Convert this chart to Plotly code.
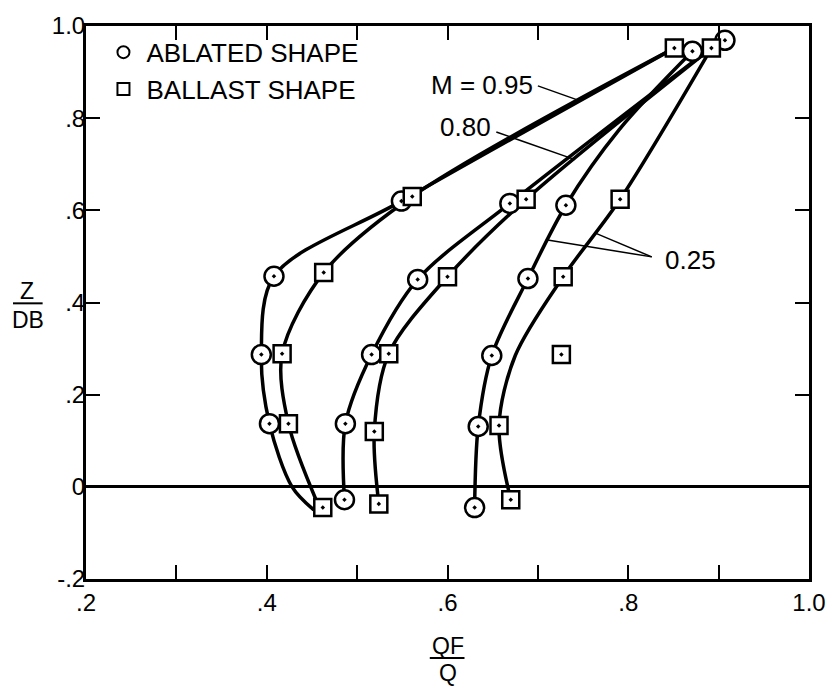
import plotly.graph_objects as go

# ---- data ----
# fair curves (x = QF/Q, y = Z/DB)
abl_095_x = [0.452, 0.428, 0.403, 0.394, 0.408, 0.549, 0.851]
abl_095_z = [-0.050, 0.000, 0.137, 0.287, 0.457, 0.620, 0.952]
bal_095_x = [0.456, 0.424, 0.417, 0.463, 0.561, 0.851]
bal_095_z = [-0.035, 0.137, 0.289, 0.465, 0.630, 0.952]
abl_080_x = [0.486, 0.487, 0.516, 0.567, 0.669, 0.890]
abl_080_z = [-0.028, 0.137, 0.287, 0.450, 0.615, 0.950]
bal_080_x = [0.524, 0.519, 0.535, 0.600, 0.687, 0.892]
bal_080_z = [-0.037, 0.120, 0.289, 0.456, 0.624, 0.952]
abl_025_x = [0.630, 0.634, 0.649, 0.689, 0.731, 0.790, 0.871]
abl_025_z = [-0.045, 0.131, 0.285, 0.452, 0.611, 0.775, 0.945]
bal_025_x = [0.670, 0.657, 0.675, 0.728, 0.791, 0.892]
bal_025_z = [-0.028, 0.133, 0.285, 0.456, 0.624, 0.952]

# measured points
abl_pts_x = [0.403, 0.394, 0.408, 0.549, 0.871, 0.486, 0.487, 0.516, 0.567, 0.669,
             0.630, 0.634, 0.649, 0.689, 0.731, 0.907]
abl_pts_z = [0.137, 0.287, 0.457, 0.620, 0.945, -0.028, 0.137, 0.287, 0.450, 0.615,
             -0.045, 0.131, 0.285, 0.452, 0.611, 0.969]
bal_pts_x = [0.462, 0.424, 0.417, 0.463, 0.561, 0.851, 0.524, 0.519, 0.535, 0.600,
             0.687, 0.892, 0.670, 0.657, 0.726, 0.728, 0.791]
bal_pts_z = [-0.045, 0.137, 0.289, 0.465, 0.630, 0.952, -0.037, 0.120, 0.289, 0.456,
             0.624, 0.952, -0.028, 0.133, 0.287, 0.456, 0.624]

x_tickvals = [0.2, 0.3, 0.4, 0.5, 0.6, 0.7, 0.8, 0.9, 1.0]
x_ticktext = [".2", "", ".4", "", ".6", "", ".8", "", "1.0"]
y_tickvals = [-0.2, 0.0, 0.2, 0.4, 0.6, 0.8, 1.0]
y_ticktext = ["-.2", "0", ".2", ".4", ".6", ".8", "1.0"]

FONT = "Liberation Sans, Arial, sans-serif"
BLACK = "#000000"

fig = go.Figure()

curves = [(abl_095_x, abl_095_z), (bal_095_x, bal_095_z),
          (abl_080_x, abl_080_z), (bal_080_x, bal_080_z),
          (abl_025_x, abl_025_z), (bal_025_x, bal_025_z)]
for cx, cz in curves:
    fig.add_trace(go.Scatter(x=cx, y=cz, mode="lines",
                             line=dict(color=BLACK, width=3.5, shape="spline", smoothing=0.9),
                             showlegend=False, hoverinfo="skip"))

fig.add_trace(go.Scatter(x=abl_pts_x, y=abl_pts_z, mode="markers", showlegend=False,
                         marker=dict(symbol="circle-dot", size=19, color="white",
                                     line=dict(color=BLACK, width=2.5))))
fig.add_trace(go.Scatter(x=bal_pts_x, y=bal_pts_z, mode="markers", showlegend=False,
                         marker=dict(symbol="square-dot", size=17, color="white",
                                     line=dict(color=BLACK, width=2.5))))

# legend entries
fig.add_trace(go.Scatter(x=[None], y=[None], mode="markers", name="ABLATED SHAPE",
                         marker=dict(symbol="circle", size=17, color="white",
                                     line=dict(color=BLACK, width=2))))
fig.add_trace(go.Scatter(x=[None], y=[None], mode="markers", name="BALLAST SHAPE",
                         marker=dict(symbol="square", size=17, color="white",
                                     line=dict(color=BLACK, width=2))))

# leader lines
leaders = [((0.700, 0.870), (0.746, 0.838)),
           ((0.654, 0.770), (0.741, 0.710)),
           ((0.826, 0.499), (0.709, 0.536)),
           ((0.826, 0.499), (0.763, 0.551))]
for (x0, y0), (x1, y1) in leaders:
    fig.add_shape(type="line", x0=x0, y0=y0, x1=x1, y1=y1, xref="x", yref="y",
                  line=dict(color=BLACK, width=1.5))

ann_font = dict(size=26, family=FONT, color=BLACK)
fig.add_annotation(x=0.697, y=0.872, text="M = 0.95", showarrow=False,
                   xanchor="right", yanchor="middle", font=ann_font)
fig.add_annotation(x=0.650, y=0.780, text="0.80", showarrow=False,
                   xanchor="right", yanchor="middle", font=ann_font)
fig.add_annotation(x=0.838, y=0.493, text="0.25", showarrow=False,
                   xanchor="left", yanchor="middle", font=ann_font)

# axis titles as fractions
title_font = dict(size=23, family=FONT, color=BLACK)
fig.add_annotation(x=0.5, y=-0.121, xref="paper", yref="paper", text="QF", showarrow=False,
                   xanchor="center", yanchor="middle", font=title_font)
fig.add_annotation(x=0.5, y=-0.170, xref="paper", yref="paper", text="Q", showarrow=False,
                   xanchor="center", yanchor="middle", font=title_font)
fig.add_shape(type="line", xref="paper", yref="paper", x0=0.4755, x1=0.5235, y0=-0.143, y1=-0.143,
              line=dict(color=BLACK, width=2))
fig.add_annotation(x=-0.0817, y=0.5215, xref="paper", yref="paper", text="Z", showarrow=False,
                   xanchor="center", yanchor="middle", font=title_font)
fig.add_annotation(x=-0.0805, y=0.4675, xref="paper", yref="paper", text="DB", showarrow=False,
                   xanchor="center", yanchor="middle", font=title_font)
fig.add_shape(type="line", xref="paper", yref="paper", x0=-0.101, x1=-0.060, y0=0.4985, y1=0.4985,
              line=dict(color=BLACK, width=2))

tick_font = dict(size=24, family=FONT, color=BLACK)
fig.update_layout(
    width=838, height=686,
    margin=dict(l=86, r=18, t=19, b=107),
    paper_bgcolor="white", plot_bgcolor="white",
    font=dict(family=FONT, color=BLACK, size=22),
    showlegend=True,
    legend=dict(x=0.02, y=0.995, xanchor="left", yanchor="top",
                bgcolor="rgba(0,0,0,0)", font=dict(size=26, family=FONT, color=BLACK),
                itemsizing="constant", itemwidth=36, tracegroupgap=0),
    xaxis=dict(range=[0.2, 1.0], tickvals=x_tickvals, ticktext=x_ticktext,
               showgrid=False, zeroline=False, showline=True, linecolor=BLACK, linewidth=3,
               mirror="ticks", ticks="inside", ticklen=14, tickwidth=2, tickcolor=BLACK,
               tickfont=tick_font),
    yaxis=dict(range=[-0.2, 1.0], tickvals=y_tickvals, ticktext=y_ticktext,
               showgrid=False, zeroline=True, zerolinecolor=BLACK, zerolinewidth=3,
               showline=True, linecolor=BLACK, linewidth=3,
               mirror="ticks", ticks="inside", ticklen=14, tickwidth=2, tickcolor=BLACK,
               tickfont=tick_font, ticklabelstandoff=-7),
)

fig.write_html("out.html")
